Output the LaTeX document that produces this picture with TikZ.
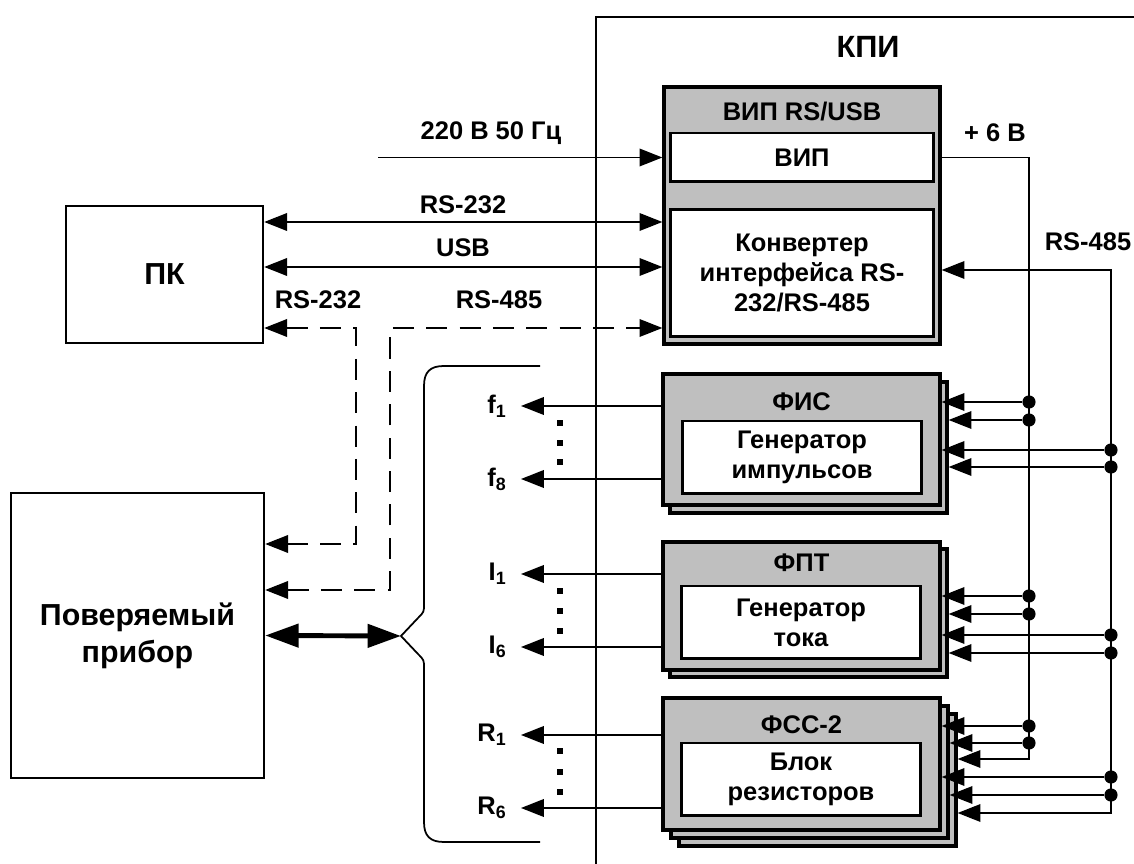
\documentclass[tikz,border=0pt]{standalone}
\usepackage{fontspec}
\setmainfont{Liberation Sans}
\usetikzlibrary{arrows.meta}

\tikzset{
  blk/.style={draw,line width=1.9pt,fill=black!25,inner sep=0pt,minimum width=5.54cm},
  inbox/.style={draw,line width=1.7pt,fill=white,align=center,inner sep=0pt},
  outbox/.style={draw,line width=1.4pt,align=center,inner sep=0pt,font=\fontsize{17.3}{21}\selectfont\bfseries},
  jn/.style={circle,fill,inner sep=0pt,minimum size=7.5pt},
  outlbl/.style={anchor=east,inner xsep=8pt,inner ysep=0pt},
  tipa/.tip={Triangle[length=13pt,width=10pt]},
  tipb/.tip={Triangle[length=19pt,width=13pt]},
  wire/.style={line width=1pt},
  dwire/.style={line width=1pt,dash pattern=on 12pt off 7pt},
}

\begin{document}
\begin{tikzpicture}[x=0.02cm,y=-0.02cm,font=\fontsize{14.5}{17}\selectfont\bfseries]
  \useasboundingbox (0,0) rectangle (1134,864);
  \draw[line width=1.1pt] (1134,17) -- (596,17) -- (596,864);
  \node[font=\fontsize{17.5}{20}\selectfont\bfseries] (kpi) at (868,47) {КПИ};

  % ВИП RS/USB
  \node[blk,minimum width=5.52cm,minimum height=5.14cm] (vipbox) at (802,215.5) {};
  \node (vipt) at (802,112) {ВИП RS/USB};
  \node[inbox,minimum width=5.28cm,minimum height=0.98cm] (vip) at (802,157.5) {ВИП};
  \node[inbox,minimum width=5.28cm,minimum height=2.56cm] (conv) at (802,273) {Конвертер\\интерфейса RS-\\232/RS-485};

  \node[outbox,minimum width=3.94cm,minimum height=2.74cm] (pc) at (164.5,274.5) {ПК};
  \node[outbox,minimum width=5.06cm,minimum height=5.7cm] (dut) at (137.5,635.5) {Поверяемый\\прибор};

  % ФИС
  \node[blk,minimum height=2.62cm] (fisb) at (808.5,447.5) {};
  \node[blk,minimum height=2.62cm] (fis) at (801.5,439.5) {};
  \node (fist) at (801.5,402) {ФИС};
  \node[inbox,minimum width=4.8cm,minimum height=1.46cm] (fisg) at (802,457.5) {Генератор\\импульсов};

  % ФПТ
  \node[blk,minimum height=2.56cm] (fptb) at (808.5,613) {};
  \node[blk,minimum height=2.56cm] (fpt) at (801.5,606) {};
  \node (fptt) at (801.5,563) {ФПТ};
  \node[inbox,minimum width=4.8cm,minimum height=1.46cm] (fptg) at (801,622.5) {Генератор\\тока};

  % ФСС-2
  \node[blk,minimum height=2.64cm] (fssc) at (817.5,780) {};
  \node[blk,minimum height=2.64cm] (fssb) at (809.5,772) {};
  \node[blk,minimum height=2.64cm] (fss) at (801.5,764) {};
  \node (fsst) at (801.5,725) {ФСС-2};
  \node[inbox,minimum width=4.8cm,minimum height=1.46cm] (fssg) at (801,779.5) {Блок\\резисторов};

  \node (l220) at (491,133) {220 В 50 Гц};
  \node (l232a) at (463,205) {RS-232};
  \node (lusb) at (463,248) {USB};
  \node (l232b) at (318,300) {RS-232};
  \node (l485a) at (499,300) {RS-485};
  \node (l6v) at (995,133) {+ 6 В};
  \node (l485b) at (1088,242) {RS-485};

  \node[outlbl] (f1) at (521,406) {f\textsubscript{1}};
  \node[outlbl] (f8) at (521,479) {f\textsubscript{8}};
  \node[outlbl] (i1) at (521,574) {I\textsubscript{1}};
  \node[outlbl] (i6) at (521,647) {I\textsubscript{6}};
  \node[outlbl] (r1) at (521,735) {R\textsubscript{1}};
  \node[outlbl] (r6) at (521,808) {R\textsubscript{6}};

  \coordinate (mains) at (378,157.5);
  \coordinate (tip) at (401,636);

  \begin{scope}[every edge/.style={draw=black,line width=1pt}]
    \path (mains) edge[-tipa] (vipbox.west |- vip)
          (pc.east |- 0,222) edge[tipa-tipa] (vipbox.west |- 0,222)
          (pc.east |- 0,267) edge[tipa-tipa] (vipbox.west |- 0,267)
          (fis.west |- f1) edge[-tipa] (f1)
          (fis.west |- f8) edge[-tipa] (f8)
          (fpt.west |- i1) edge[-tipa] (i1)
          (fpt.west |- i6) edge[-tipa] (i6)
          (fss.west |- r1) edge[-tipa] (r1)
          (fss.west |- r6) edge[-tipa] (r6)
          (dut.east) edge[line width=2.8pt,tipb-tipb] (tip);
  \end{scope}

  \draw[dwire,tipa-tipa] (pc.east |- 0,328) -| (356,544) -- (dut.east |- 0,544);
  \draw[dwire,tipa-tipa] (dut.east |- 0,590) -| (390,328) -- (vipbox.west |- 0,328);

  \draw[wire] (540,366) -- (444,366) .. controls (430,366) and (424,372) .. (424,386)
    -- (424,604) .. controls (424,612) .. (418,618) -- (tip) -- (418,654)
    .. controls (424,660) .. (424,668) -- (424,822)
    .. controls (424,836) and (430,842) .. (444,842) -- (540,842);

  \foreach \yy in {423,443,462,591,611,631,751,772,792}
    \fill (557,\yy-3) rectangle ++(6,6);

  % buses
  \draw[wire,-tipa] (vipbox.east |- vip) -| (1029,759) -- (fssc.east |- 0,759);
  \draw[wire,tipa-tipa] (fssc.east |- 0,813) -| (1111,270) -- (vipbox.east |- 0,270);
  \foreach \yy/\bb in {402/fis,420/fisb,596/fpt,614/fptb,726/fss,743/fssb}{
    \node[jn] (pw\yy) at (1029,\yy) {};
    \draw[wire,-tipa] (pw\yy) -- (\bb.east |- pw\yy);
  }
  \foreach \yy/\bb in {450/fis,467/fisb,635/fpt,653/fptb,777/fss,795/fssb}{
    \node[jn] (rs\yy) at (1111,\yy) {};
    \draw[wire,-tipa] (rs\yy) -- (\bb.east |- rs\yy);
  }
\end{tikzpicture}
\end{document}
